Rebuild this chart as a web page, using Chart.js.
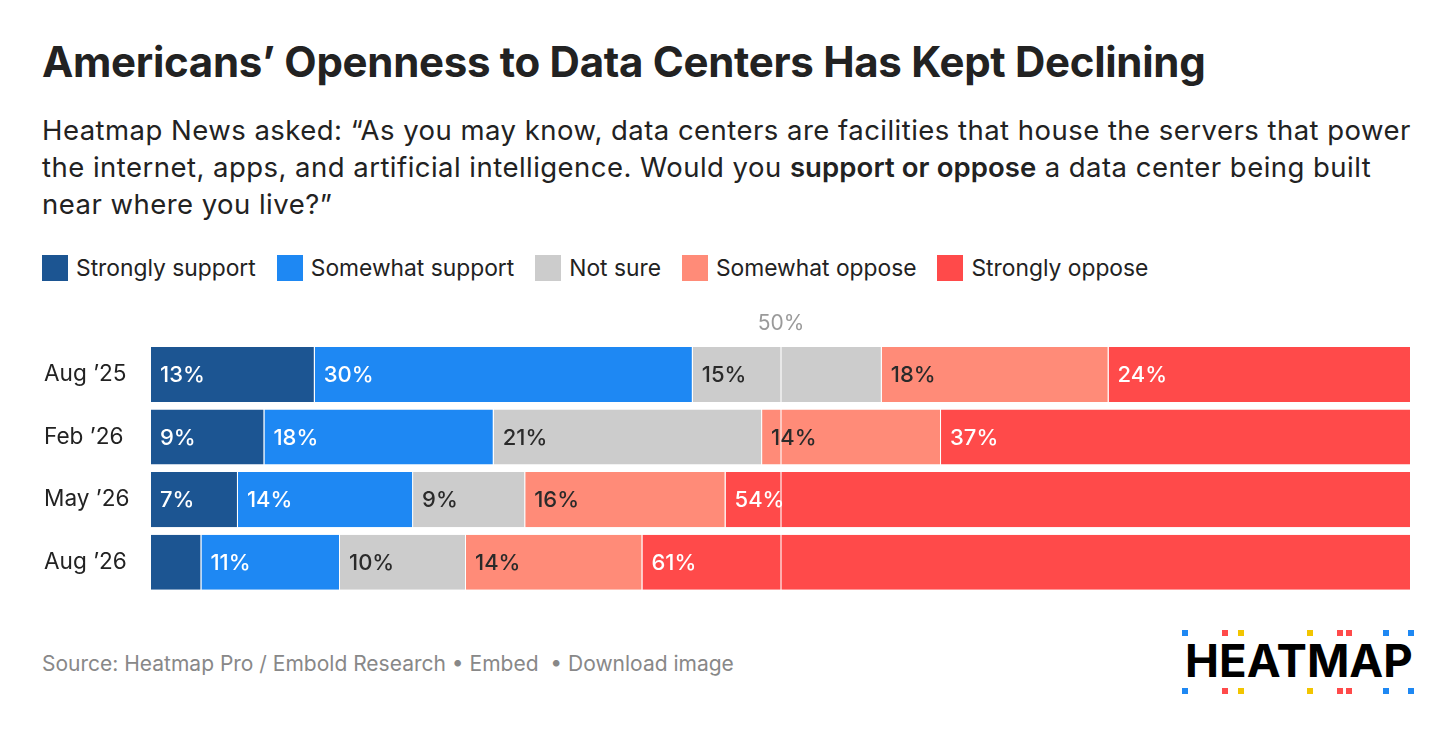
<!DOCTYPE html>
<html>
<head>
<meta charset="utf-8">
<script src="https://cdn.jsdelivr.net/npm/chart.js@4"></script>
<style>
  body { margin: 0; background: #fff; font-family: Inter, "Noto Sans", sans-serif; color: #222; }
  #wrap { position: relative; width: 1456px; height: 736px; overflow: hidden; }
  h1 { position: absolute; left: 42px; top: 37px; margin: 0; font-size: 42px; font-weight: 700; letter-spacing: -0.3px; line-height: 50px; white-space: nowrap; }
  #sub { position: absolute; left: 42px; top: 112px; margin: 0; font-size: 27.5px; line-height: 37px; font-weight: 400; letter-spacing: 0.47px; white-space: nowrap; }
  #sub b { font-weight: 600; letter-spacing: 0.1px; }
  #legend { position: absolute; left: 42px; top: 254px; display: flex; font-size: 22.8px; }
  .item { display: flex; align-items: center; margin-right: 21px; }
  .sw { width: 26px; height: 26px; margin-right: 8px; }
  #chartBox { position: absolute; left: 0; top: 300px; width: 1456px; height: 310px; }
  #src { position: absolute; left: 42px; top: 651px; font-size: 21px; color: #888; }
  #logo { position: absolute; left: 1185px; top: 636px; font-size: 45.5px; font-weight: 700; color: #000; letter-spacing: 0px; line-height: 50px; }
  .dot { position: absolute; width: 6px; height: 6px; }
</style>
</head>
<body>
<div id="wrap">
  <h1>Americans’ Openness to Data Centers Has Kept Declining</h1>
  <p id="sub">Heatmap News asked: “As you may know, data centers are facilities that house the servers that power<br>the internet, apps, and artificial intelligence. Would you <b>support or oppose</b> a data center being built<br>near where you live?”</p>
  <div id="legend"></div>
  <div id="chartBox"><canvas id="myChart"></canvas></div>
  <div id="src">Source: Heatmap Pro / Embold Research • Embed &nbsp;• Download image</div>
  <div id="logo">HEATMAP</div>
</div>
<script>
let periods = ["Aug ’25", "Feb ’26", "May ’26", "Aug ’26"];
let seriesNames = ["Strongly support", "Somewhat support", "Not sure", "Somewhat oppose", "Strongly oppose"];
let strongSupport = [13, 9, 6.9, 4];
let someSupport = [30, 18.2, 13.9, 11];
let notSure = [15, 21.3, 8.9, 10];
let someOppose = [18, 14.2, 15.9, 14];
let strongOppose = [24, 37.3, 54.4, 61];
let colors = ['#1c5592', '#1e88f3', '#cccccc', '#ff8b78', '#ff4a4a'];
let labelColors = ['#fff', '#fff', '#2a2a2a', '#2a2a2a', '#fff'];
let midLine = 50;

// legend
let legend = document.getElementById('legend');
seriesNames.forEach((name, i) => {
    let item = document.createElement('div');
    item.className = 'item';
    item.innerHTML = '<div class="sw" style="background:' + colors[i] + '"></div>' + name;
    legend.appendChild(item);
});

// logo dots
let dotX = [1185, 1225, 1241, 1310, 1340, 1349, 1386, 1411];
let dotC = ['#1e88f3', '#ff4a4a', '#f2c500', '#f2c500', '#ff4a4a', '#ff4a4a', '#1e88f3', '#1e88f3'];
[630, 688].forEach(y => {
    dotX.forEach((x, i) => {
        let d = document.createElement('div');
        d.className = 'dot';
        d.style.left = (x - 3) + 'px';
        d.style.top = y + 'px';
        d.style.background = dotC[i];
        document.getElementById('wrap').appendChild(d);
    });
});

// labels inside the bar segments + the 50% marker
let barLabels = {
    id: 'barLabels',
    afterDatasetsDraw(chart) {
        let ctx = chart.ctx;
        let xs = chart.scales.x;
        let x50 = xs.getPixelForValue(midLine);
        ctx.save();
        ctx.strokeStyle = 'rgba(255,255,255,0.55)';
        ctx.lineWidth = 2;
        ctx.beginPath();
        ctx.moveTo(x50, chart.chartArea.top + 3);
        ctx.lineTo(x50, chart.chartArea.bottom - 3);
        ctx.stroke();
        ctx.fillStyle = '#9a9a9a';
        ctx.font = '400 21px Inter';
        ctx.textAlign = 'center';
        ctx.textBaseline = 'middle';
        ctx.fillText(midLine + '%', x50, chart.chartArea.top - 20);

        ctx.font = '500 22px Inter';
        ctx.textAlign = 'left';
        chart.data.datasets.forEach((ds, i) => {
            let meta = chart.getDatasetMeta(i);
            meta.data.forEach((bar, j) => {
                let v = ds.data[j];
                if (v < 5) return;
                ctx.fillStyle = labelColors[i];
                ctx.fillText(Math.round(v) + '%', bar.base + 9, bar.y + 1);
            });
        });
        ctx.restore();
    }
};

function makeDataset(i, values) {
    return {
        label: seriesNames[i],
        data: values,
        backgroundColor: colors[i],
        borderColor: 'rgba(255,255,255,0.8)',
        borderWidth: {left: 0, right: 1, top: 0, bottom: 0},
        borderSkipped: false,
        barPercentage: 0.88,
        categoryPercentage: 1.0
    };
}

let ctx = document.getElementById('myChart').getContext('2d');
let myChart = new Chart(ctx, {
    type: 'bar',
    data: {
        labels: periods,
        datasets: [
            makeDataset(0, strongSupport),
            makeDataset(1, someSupport),
            makeDataset(2, notSure),
            makeDataset(3, someOppose),
            makeDataset(4, strongOppose)
        ]
    },
    options: {
        indexAxis: 'y',
        responsive: true,
        maintainAspectRatio: false,
        animation: false,
        layout: {padding: {top: 43.25, bottom: 6.75, left: 44, right: 45}},
        plugins: {
            legend: {display: false},
            tooltip: {enabled: false}
        },
        scales: {
            x: {stacked: true, min: 0, max: 100, display: false},
            y: {
                stacked: true,
                grid: {display: false},
                border: {display: false},
                ticks: {
                    crossAlign: 'far',
                    color: '#222',
                    font: {family: 'Inter', size: 22.6, weight: '400'}
                },
                afterFit(scale) { scale.width = 107; }
            }
        }
    },
    plugins: [barLabels]
});
</script>
</body>
</html>
